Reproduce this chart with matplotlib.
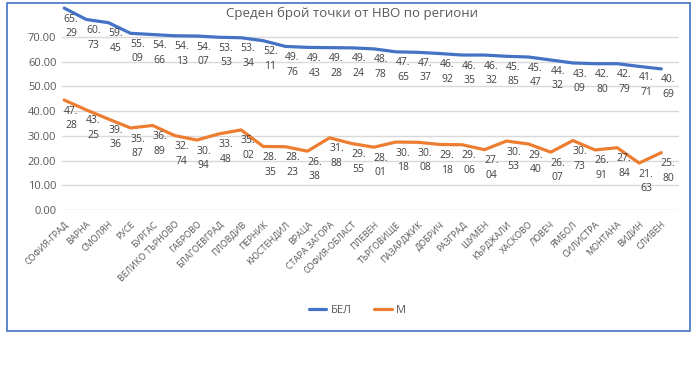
import matplotlib
matplotlib.use("Agg")
from matplotlib import pyplot as plt
from matplotlib.patches import Rectangle
from matplotlib.transforms import ScaledTranslation
import numpy as np

plt.rcParams['font.family'] = ['Open Sans', 'DejaVu Sans']

REGIONS = [
    "СОФИЯ-ГРАД", "ВАРНА", "СМОЛЯН", "РУСЕ", "БУРГАС", "ВЕЛИКО ТЪРНОВО",
    "ГАБРОВО", "БЛАГОЕВГРАД", "ПЛОВДИВ", "ПЕРНИК", "КЮСТЕНДИЛ", "ВРАЦА",
    "СТАРА ЗАГОРА", "СОФИЯ-ОБЛАСТ", "ПЛЕВЕН", "ТЪРГОВИЩЕ", "ПАЗАРДЖИК",
    "ДОБРИЧ", "РАЗГРАД", "ШУМЕН", "КЪРДЖАЛИ", "ХАСКОВО", "ЛОВЕЧ", "ЯМБОЛ",
    "СИЛИСТРА", "МОНТАНА", "ВИДИН", "СЛИВЕН",
]

# line heights as drawn in the picture
bel_line = [81.7, 77.1, 75.8, 71.5, 71.0, 70.5, 70.4, 69.9, 69.7, 68.5,
            66.2, 65.8, 65.7, 65.6, 65.2, 64.0, 63.8, 63.3, 62.7, 62.7,
            62.2, 61.9, 60.7, 59.5, 59.2, 59.2, 58.1, 57.1]
m_line = [44.5, 40.5, 36.8, 33.2, 34.2, 30.1, 28.3, 30.8, 32.4, 25.7,
          25.6, 23.8, 29.2, 26.9, 25.4, 27.5, 27.4, 26.5, 26.4, 24.4,
          27.9, 26.7, 23.4, 28.1, 24.3, 25.2, 19.0, 23.2]

# data labels as printed
bel_labels = [65.29, 60.73, 59.45, 55.09, 54.66, 54.13, 54.07, 53.53, 53.34,
              52.11, 49.76, 49.43, 49.28, 49.24, 48.78, 47.65, 47.37, 46.92,
              46.35, 46.32, 45.85, 45.47, 44.32, 43.09, 42.80, 42.79, 41.71,
              40.69]
m_labels = [47.28, 43.25, 39.36, 35.87, 36.89, 32.74, 30.94, 33.48, 35.02,
            28.35, 28.23, 26.38, 31.88, 29.55, 28.01, 30.18, 30.08, 29.18,
            29.06, 27.04, 30.53, 29.40, 26.07, 30.73, 26.91, 27.84, 21.63,
            25.80]

BLUE = "#4472C4"
ORANGE = "#ED7D31"
GRAY = "#595959"


def split_label(v):
    a, b = f"{v:.2f}".split(".")
    return f"{a}.\n{b}"


def main():
    fig = plt.figure(figsize=(6.98, 3.82), dpi=100)
    ax = fig.add_axes([0.0888, 0.4503, 0.884, 0.5175])

    x = np.arange(len(REGIONS))
    ax.plot(x, bel_line, color=BLUE, lw=2.3, label="БЕЛ", clip_on=False,
            solid_capstyle="round")
    ax.plot(x, m_line, color=ORANGE, lw=2.3, label="М", clip_on=False,
            solid_capstyle="round")

    for line, labels in ((bel_line, bel_labels), (m_line, m_labels)):
        for xi, y, v in zip(x, line, labels):
            ax.annotate(split_label(v), (xi, y), xytext=(5, -4),
                        textcoords="offset points", ha="center", va="top",
                        fontsize=7.5, color="#404040", linespacing=1.45,
                        annotation_clip=False)

    # the lines in the picture sit a little left of the category labels
    ax.set_xlim(-0.1, len(REGIONS) - 0.2)
    ax.set_ylim(0, 80)
    ax.set_yticks(np.arange(0, 71, 10))
    ax.set_yticklabels([f"{t:.2f}" for t in np.arange(0, 71, 10)],
                       fontsize=8, color=GRAY)
    ax.set_xticks(x)
    ax.set_xticklabels(REGIONS, rotation=45, ha="right",
                       rotation_mode="anchor", fontsize=6.5, color=GRAY)
    shift = ScaledTranslation(8 / 100, 0, fig.dpi_scale_trans)
    for lbl in ax.get_xticklabels():
        lbl.set_transform(lbl.get_transform() + shift)
    ax.tick_params(axis="x", length=0, pad=7)
    ax.tick_params(axis="y", length=0, pad=4)
    ax.grid(axis="y", color="#D9D9D9", lw=1)
    ax.set_axisbelow(True)
    for s in ax.spines.values():
        s.set_visible(False)

    fig.text(0.505, 0.965, "Среден брой точки от НВО по региони",
             ha="center", va="center", fontsize=9.5, color=GRAY)

    fig.legend(loc="center", bbox_to_anchor=(0.512, 0.187), ncol=2,
               frameon=False, fontsize=8, labelcolor=GRAY,
               handlelength=1.6, columnspacing=2.0, handletextpad=0.4)

    fig.patches.append(Rectangle((7 / 698, 1 - 331 / 382), 683 / 698,
                                 328 / 382, transform=fig.transFigure,
                                 fill=False, edgecolor=BLUE, lw=1.2))

    fig.savefig("out.png", dpi=100)


if __name__ == "__main__":
    main()
